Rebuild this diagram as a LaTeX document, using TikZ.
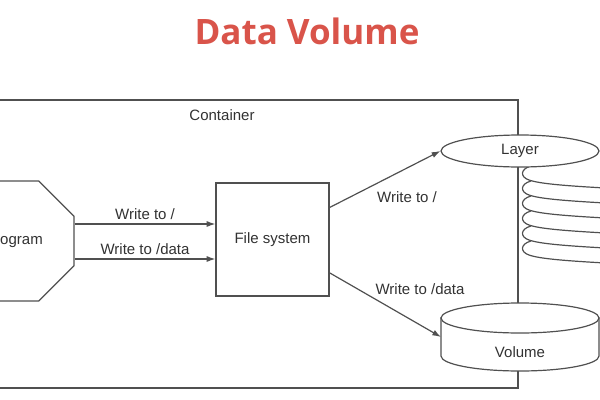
\documentclass[tikz,border=0pt]{standalone}
\usepackage{fontspec}
\setmainfont{Liberation Sans}
\newfontfamily\titlefont{Open Sans}
\usepackage{xcolor}
\usetikzlibrary{shapes.geometric,arrows.meta}

\definecolor{titlered}{RGB}{217,84,74}
\definecolor{linegray}{RGB}{80,80,80}
\definecolor{textgray}{RGB}{50,50,50}

\tikzset{
  box/.style={draw=linegray, line width=0.9pt, fill=white, inner sep=0pt},
  arr/.style={draw=linegray, line width=0.9pt, -{Latex[length=6.5pt,width=4.5pt]}},
  lbl/.style={text=textgray, font=\fontsize{11.25}{13.5}\selectfont, inner sep=1pt},
}

\begin{document}
\begin{tikzpicture}[x=0.75pt,y=0.75pt,yscale=-1,xscale=1]
\useasboundingbox (0,0) rectangle (600,400);
\clip (0,0) rectangle (600,400);

% Title
\node (title) at (307,31) {\titlefont\bfseries\fontsize{26.25}{30}\selectfont\color{titlered}Data Volume};

%Container
\draw[draw=linegray, line width=0.9pt] (-5,100) rectangle (518,388);
\node[lbl] (cont) at (222,115) {Container};

%Layer stack
\foreach \yb in {175,190,205,220,235,250} {
  \draw[draw=linegray, line width=0.9pt] (605,\yb+13) .. controls (570,\yb+11) and (540,\yb+9) .. (529,\yb+5) .. controls (520,\yb+2) and (520,\yb-6) .. (531,\yb-9);
}

%Shapes
\node[box, regular polygon, regular polygon sides=8, minimum size=97.4pt, lbl] (prog) at (14,241) {Program};
\node[box, rectangle, minimum width=84.75pt, minimum height=84.75pt, lbl] (fs) at (272.5,239.5) {File system};
\node[box, ellipse, minimum width=118.5pt, minimum height=24pt, lbl] (layer) at (520,151) {Layer};

%Volume cylinder
\draw[box] (441,318) -- (441,356) arc[start angle=180, end angle=0, x radius=79, y radius=15] -- (599,318) -- cycle;
\draw[box] (520,318) ellipse[x radius=79, y radius=15];
\coordinate (volw) at (441,337);
\node[lbl] (vol) at (520,352) {Volume};

%Arrows
\draw[arr] ([yshift=-12.75pt]prog.east) coordinate (p1) -- (p1 -| fs.west)
  node[midway, above=2pt, lbl] (w1) {Write to /};
\draw[arr] ([yshift=13.5pt]prog.east) coordinate (p2) -- (p2 -| fs.west)
  node[midway, above=2pt, lbl] (w2) {Write to /data};
\draw[arr] ([yshift=-24pt]fs.east) -- (layer.west);
\draw[arr] ([yshift=25pt]fs.east) -- (volw);
\node[lbl] (w3) at (407,197) {Write to /};
\node[lbl] (w4) at (420,289) {Write to /data};

\end{tikzpicture}
\end{document}
